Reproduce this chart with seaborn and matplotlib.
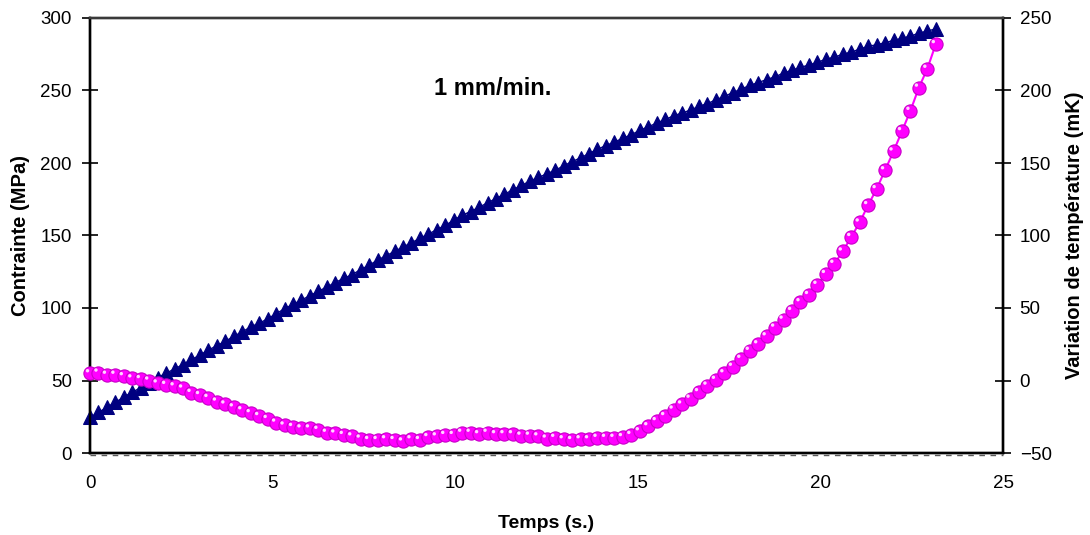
import numpy as np
import pandas as pd
import matplotlib
matplotlib.use("Agg")
import matplotlib.pyplot as plt
from matplotlib.path import Path
import seaborn as sns

# Sampling instants (s), one every 0.2316 s
temps = [round(i * 0.2316, 3) for i in range(101)]

# Stress (MPa), left axis
contrainte = [
    24.5, 28, 31.5, 35, 38.5, 42, 45, 48.5, 52, 55,
    58, 61, 64.5, 67.5, 71, 74, 77, 80.5, 83.5, 87,
    89.5, 92.5, 96, 99.5, 102.5, 105.5, 108.5, 111.5, 114.5, 117.5,
    120.5, 123, 126.5, 129.5, 133, 136, 139, 142, 145, 148,
    151, 154, 157, 160.5, 164, 166.5, 169.5, 172.5, 175.5, 178.5,
    181.5, 184.5, 187.5, 190, 192.5, 195, 198, 201, 203.5, 206.5,
    209.5, 212, 214.5, 217, 219.5, 222.5, 225, 227.5, 230, 232.5,
    234.5, 236.5, 239, 241, 243.5, 246, 248.5, 251, 253.5, 255.5,
    257.5, 259.5, 262, 264, 266, 267.5, 269.5, 271.5, 273, 275,
    276.5, 278.5, 280.5, 281.5, 283, 284.5, 286, 287.5, 289.5, 291,
    292.5,
]

# Temperature change (mK), right axis
variation_temp = [
    5, 5.5, 4, 4, 3, 1.5, 1, 0, -2, -3,
    -4, -5.5, -8.5, -10, -12, -14.5, -16.5, -18.5, -20.5, -22.5,
    -24.5, -26.5, -29, -31, -32, -33, -33, -34, -36, -36.5,
    -37.5, -38.5, -40, -41, -41, -40.5, -41, -42, -40.5, -41,
    -39, -38.5, -37.5, -37.5, -36, -36, -37, -36, -37, -37,
    -37, -38, -38, -38.5, -40, -39.5, -40.5, -41, -40.5, -40.5,
    -39.5, -39.5, -39.5, -39, -37.5, -35, -31.5, -28, -24.5, -20,
    -16.5, -12.5, -8, -3.5, 0.5, 5, 9.5, 15, 20.5, 25,
    30.5, 36.5, 42, 48, 54, 59, 66, 73.5, 80.5, 89,
    99, 109, 121, 132, 145, 158, 172, 186, 202, 215,
    232,
]

x_ticks = [0, 5, 10, 15, 20, 25]
left_ticks = [0, 50, 100, 150, 200, 250, 300]
right_ticks = [-50, 0, 50, 100, 150, 200, 250]

df = pd.DataFrame({"t": temps, "sigma": contrainte, "dT": variation_temp})

sns.set_style("white")
plt.rcParams["font.family"] = ["Liberation Sans", "DejaVu Sans"]
plt.rcParams.update({"text.color": "black", "axes.labelcolor": "black",
                     "xtick.color": "black", "ytick.color": "black"})

NAVY = "#000080"
MAGENTA = "#FF00FF"

# Glossy spot for the round markers: a small ellipse in the upper-left
# quadrant, with invisible corner points fixing the marker's scale.
_spot = Path.circle((-0.38, 0.38), 0.26)
_box = Path([(-1, -1), (1, 1)], [Path.MOVETO, Path.MOVETO])
spot_marker = Path.make_compound_path(_box, _spot)

fig = plt.figure(figsize=(10.9, 5.35), dpi=100)
ax = fig.add_axes([90 / 1090, 1 - 453 / 535, 913 / 1090, 435 / 535])
ax2 = ax.twinx()

sns.lineplot(data=df, x="t", y="sigma", ax=ax, color=NAVY, lw=1.0,
             marker="^", markersize=10.5, markeredgecolor=NAVY,
             markerfacecolor=NAVY, clip_on=False, zorder=3)
sns.lineplot(data=df, x="t", y="dT", ax=ax2, color=MAGENTA, lw=1.5,
             marker="o", markersize=9.5, markeredgecolor="#C800C8",
             markeredgewidth=0.8, markerfacecolor=MAGENTA, clip_on=False,
             zorder=3)
sns.scatterplot(data=df, x="t", y="dT", ax=ax2, marker=spot_marker,
                s=9.5 ** 2, color="#FFD6FF", edgecolor="none",
                linewidth=0, clip_on=False, zorder=4, legend=False)

ax.set_xlim(0, 25)
ax.set_ylim(0, 300)
ax2.set_ylim(-50, 250)
ax.set_xticks(x_ticks)
ax.set_yticks(left_ticks)
ax2.set_yticks(right_ticks)

for a in (ax, ax2):
    for s in a.spines.values():
        s.set_color("black")
        s.set_linewidth(1.7)
ax.spines["top"].set_color("#3a3a3a")
ax2.spines["top"].set_color("#3a3a3a")

# thin dashed rule hugging the time axis
ax.plot([0, 1], [-0.0035, -0.0035], transform=ax.transAxes, color="#5a5a5a",
        lw=1.0, ls=(0, (4, 4)), clip_on=False)

ax.tick_params(axis="y", direction="inout", length=12, width=1.2,
               labelsize=13.5, pad=7)
ax2.tick_params(axis="y", direction="inout", length=12, width=1.2,
                labelsize=13.5, pad=6)
ax.tick_params(axis="x", length=0, labelsize=13.5, pad=16)

ax.set_xlabel("Temps (s.)", fontsize=14, fontweight="bold")
ax.set_ylabel("Contrainte (MPa)", fontsize=14.5, fontweight="bold")
ax2.set_ylabel("Variation de température (mK)", fontsize=14.5,
               fontweight="bold")
ax.xaxis.set_label_coords(0.5, -0.142)
ax.yaxis.set_label_coords(-0.066, 0.5)
ax2.yaxis.set_label_coords(1.068, 0.5)

ax.text(11.02, 251.7, "1 mm/min.", fontsize=17, fontweight="bold",
        ha="center", va="center")

fig.savefig("out.png", dpi=100)
